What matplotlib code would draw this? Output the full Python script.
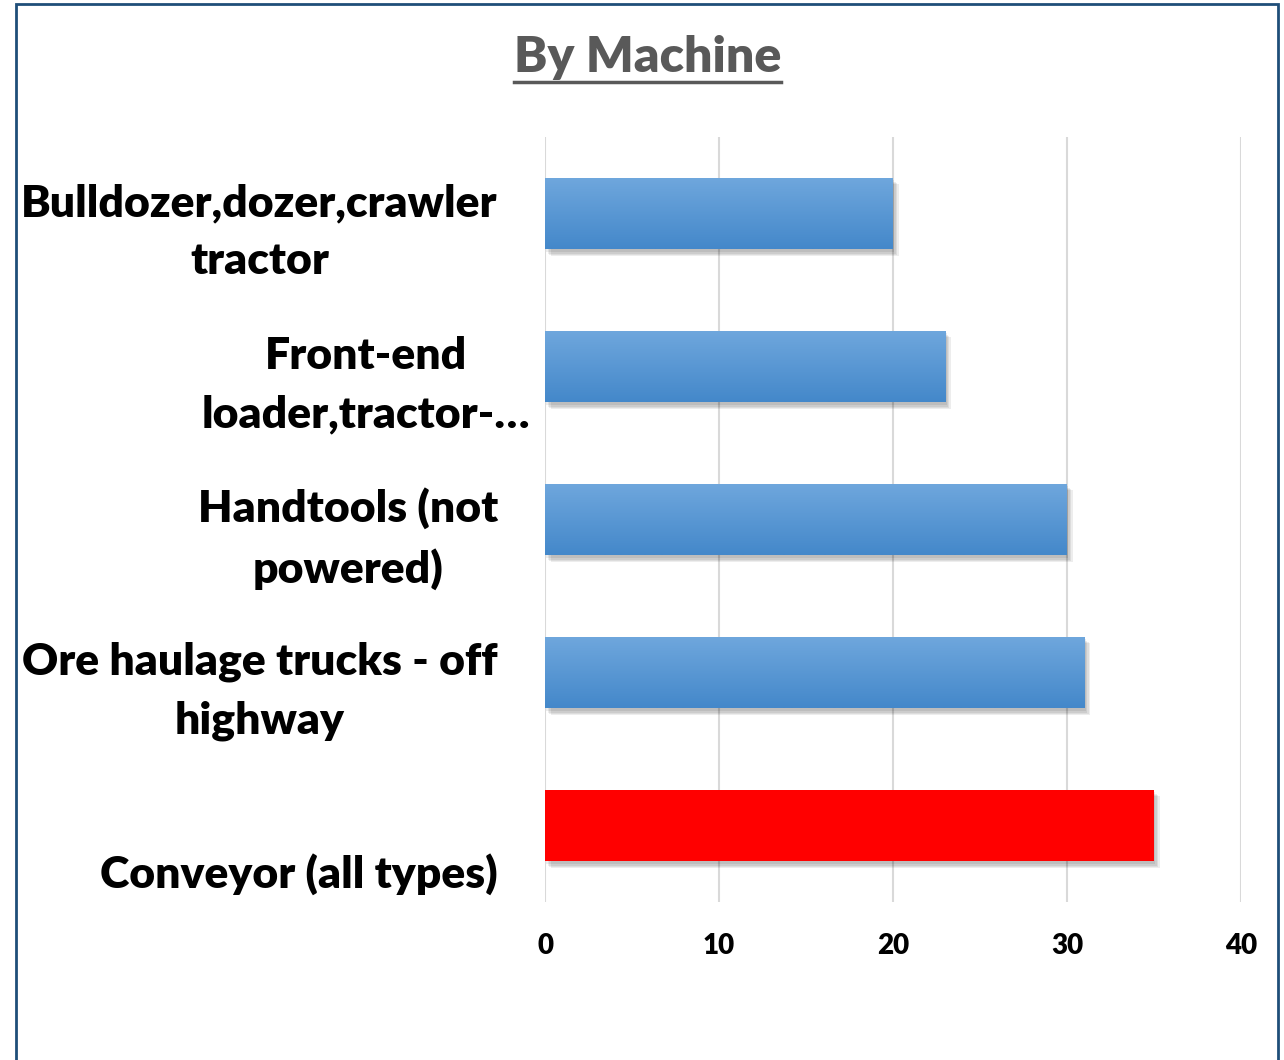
import numpy as np
import matplotlib
matplotlib.use("Agg")
from matplotlib import pyplot as plt
from matplotlib import patheffects as pe
from matplotlib.patches import Rectangle
from matplotlib.lines import Line2D
from matplotlib.transforms import ScaledTranslation

# data
machines = ["Bulldozer,dozer,crawler\ntractor",
            "Front-end\nloader,tractor-\u2026",
            "Handtools (not\npowered)",
            "Ore haulage trucks - off\nhighway",
            "\nConveyor (all types)"]
counts = [20, 23, 30, 31, 35]
highlight = [False, False, False, False, True]
xticks = [0, 10, 20, 30, 40]

plt.rcParams['font.family'] = ['Lato', 'DejaVu Sans']

fig = plt.figure(figsize=(12.84, 10.6), dpi=100)
ax = fig.add_axes([545 / 1284, 1 - 902 / 1060, 696 / 1284, 765 / 1060])

ypos = np.arange(len(machines))
bar_h = 0.47
colors = ["#ff0000" if h else "#5b9bd5" for h in highlight]
# soft-ish shadow, a few stacked layers
shadow = [pe.SimplePatchShadow(offset=(k, -k - 1), shadow_rgbFace="k", alpha=0.07)
          for k in (4, 3, 2, 1)] + [pe.Normal()]
bars = ax.barh(ypos, counts, height=bar_h, color=colors, zorder=3)
for b in bars:
    b.set_path_effects(shadow)

# gradient fill on the blue bars
grad = np.linspace(0, 1, 64).reshape(-1, 1, 1)
top = np.array([0x6f, 0xa7, 0xdd]) / 255
bot = np.array([0x44, 0x88, 0xca]) / 255
img = top + (bot - top) * grad
for b, y, v, h in zip(bars, ypos, counts, highlight):
    if h:
        continue
    im = ax.imshow(img, extent=(0, v, y + bar_h / 2, y - bar_h / 2), origin="upper",
                   aspect="auto", zorder=4, interpolation="bilinear")
    im.set_clip_path(b)

ax.set_xlim(0, 40)
ax.set_ylim(len(machines) - 0.5, -0.5)
ax.set_xticks(xticks)
ax.set_xticklabels([str(t) for t in xticks], fontsize=20, fontweight="heavy")
ax.set_yticks(ypos)
ax.set_yticklabels(machines, fontsize=32, fontweight="heavy", multialignment="center",
                   linespacing=1.55)
ax.tick_params(axis="both", length=0)
ax.tick_params(axis="x", pad=22)
ax.tick_params(axis="y", pad=34)
for i, lab in enumerate(ax.get_yticklabels()):
    dx = 32 if i == 1 else 0   # excel lets the truncated label run wider
    lab.set_transform(lab.get_transform() +
                      ScaledTranslation(dx / 100, -6 / 100, fig.dpi_scale_trans))
for s in ax.spines.values():
    s.set_visible(False)
ax.grid(axis="x", color="#d9d9d9", linewidth=1.5, zorder=0)
ax.set_axisbelow(True)

# title with underline
title = fig.text(0.5045, 1 - 58 / 1060, "By Machine", ha="center", va="center",
                 fontsize=36, fontweight="heavy", color="#595959")
fig.canvas.draw()
bb = title.get_window_extent()
fig.add_artist(Line2D([bb.x0 / 1284, bb.x1 / 1284], [1 - 82 / 1060, 1 - 82 / 1060],
                      color="#595959", linewidth=2.5, transform=fig.transFigure))

# frame
fig.add_artist(Rectangle((16 / 1284, -0.05), (1278 - 16) / 1284, 1.05 - 4 / 1060,
                         fill=False, edgecolor="#1f4e79", linewidth=2,
                         transform=fig.transFigure))

fig.savefig("out.png", dpi=100)
